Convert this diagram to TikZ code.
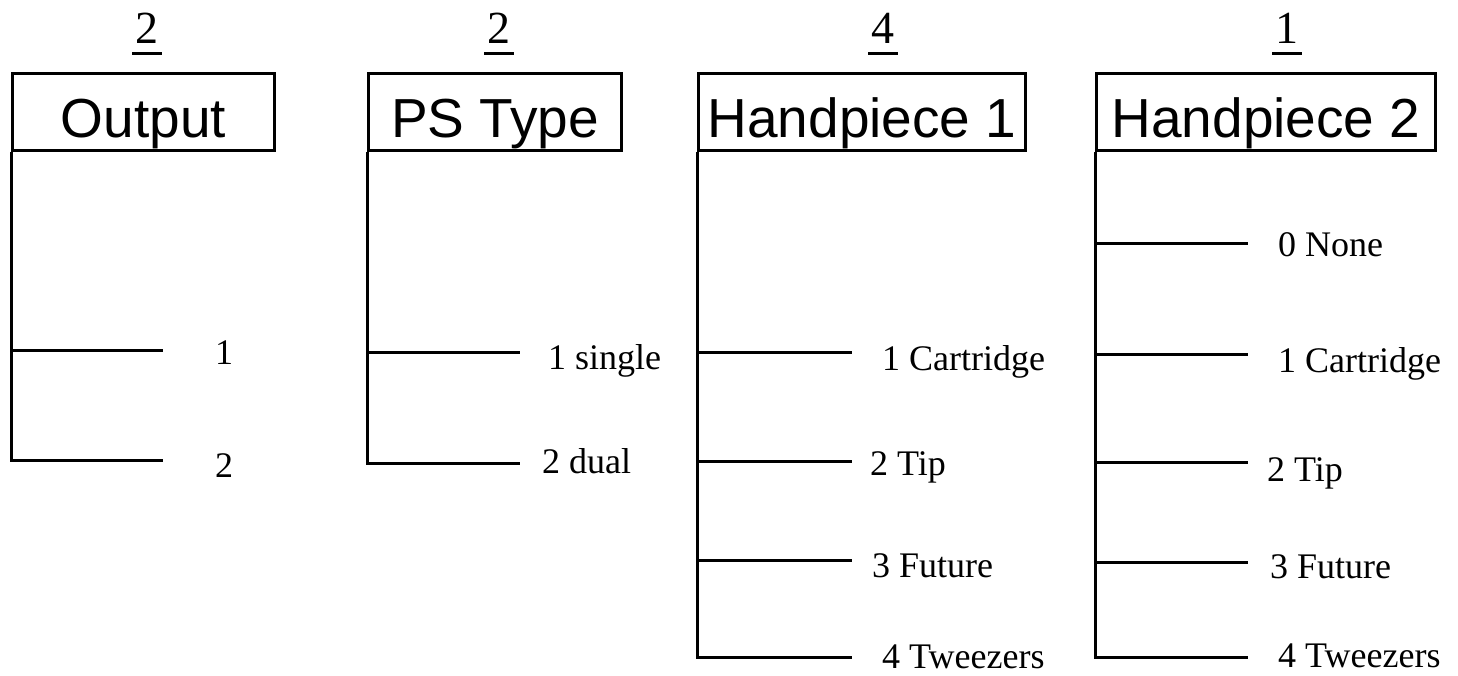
\documentclass[tikz,border=0pt]{standalone}
\usepackage{fontspec}
\setmainfont{Liberation Serif}
\newfontfamily\hdfont{Liberation Sans}
\begin{document}
\begin{tikzpicture}[x=1pt,y=-1pt,
  hdbox/.style={draw,line width=3pt,inner sep=0pt,minimum height=77pt,text height=50pt,text depth=0pt,font=\hdfont\fontsize{55}{60}\selectfont},
  num/.style={inner sep=0pt,anchor=base,font=\fontsize{46}{50}\selectfont},
  lab/.style={inner sep=0pt,anchor=base west,font=\fontsize{36}{40}\selectfont},
  ln/.style={line width=3pt,line join=miter},
  uline/.style={line width=3pt}
]
\useasboundingbox[fill=white] (0,0) rectangle (1458,675);

% ---------- headers ----------
\node[hdbox,minimum width=262pt] (o)  at (143.5,112) {Output};
\node[hdbox,minimum width=253pt] (ps) at (495,112) {PS Type};
\node[hdbox,minimum width=327pt] (h1) at (862,112) {Handpiece 1};
\node[hdbox,minimum width=339pt] (h2) at (1266,112) {Handpiece 2};

\node[num] (no)  at (147,43) {2};
\node[num] (nps) at (499,43) {2};
\node[num] (nh1) at (883,43) {4};
\node[num] (nh2) at (1287,43) {1};
\foreach \n in {no,nps,nh1,nh2}{
  \draw[uline] ([shift={(-15,10.5)}]\n.base) -- ([shift={(15,10.5)}]\n.base);
}

% ---------- Output ----------
\coordinate (o-t1) at (o.south west |- 0,350);
\coordinate (o-e1) at (163,350);
\coordinate (o-e2) at (163,460);
\draw[ln] (o.south west) |- (o-e2);
\draw[ln] (o-t1) -- (o-e1);
\node[lab] (o-l1) at (215,364) {1};
\node[lab] (o-l2) at (215,477) {2};

% ---------- PS Type ----------
\coordinate (ps-t1) at (ps.south west |- 0,352);
\coordinate (ps-e1) at (520,352);
\coordinate (ps-e2) at (520,463);
\draw[ln] (ps.south west) |- (ps-e2);
\draw[ln] (ps-t1) -- (ps-e1);
\node[lab] (ps-l1) at (548,369) {1 single};
\node[lab] (ps-l2) at (542,473) {2 dual};

% ---------- Handpiece 1 ----------
\coordinate (h1-t1) at (h1.south west |- 0,352);
\coordinate (h1-t2) at (h1.south west |- 0,461);
\coordinate (h1-t3) at (h1.south west |- 0,560);
\coordinate (h1-e1) at (852,352);
\coordinate (h1-e2) at (852,461);
\coordinate (h1-e3) at (852,560);
\coordinate (h1-e4) at (852,657);
\draw[ln] (h1.south west) |- (h1-e4);
\draw[ln] (h1-t1) -- (h1-e1);
\draw[ln] (h1-t2) -- (h1-e2);
\draw[ln] (h1-t3) -- (h1-e3);
\node[lab] (h1-l1) at (882,370) {1 Cartridge};
\node[lab] (h1-l2) at (870,475) {2 Tip};
\node[lab] (h1-l3) at (872,577) {3 Future};
\node[lab] (h1-l4) at (882,668) {4 Tweezers};

% ---------- Handpiece 2 ----------
\coordinate (h2-t0) at (h2.south west |- 0,243);
\coordinate (h2-t1) at (h2.south west |- 0,354);
\coordinate (h2-t2) at (h2.south west |- 0,462);
\coordinate (h2-t3) at (h2.south west |- 0,562);
\coordinate (h2-e0) at (1248,243);
\coordinate (h2-e1) at (1248,354);
\coordinate (h2-e2) at (1248,462);
\coordinate (h2-e3) at (1248,562);
\coordinate (h2-e4) at (1248,657);
\draw[ln] (h2.south west) |- (h2-e4);
\draw[ln] (h2-t0) -- (h2-e0);
\draw[ln] (h2-t1) -- (h2-e1);
\draw[ln] (h2-t2) -- (h2-e2);
\draw[ln] (h2-t3) -- (h2-e3);
\node[lab] (h2-l0) at (1278,256) {0 None};
\node[lab] (h2-l1) at (1278,372) {1 Cartridge};
\node[lab] (h2-l2) at (1267,481) {2 Tip};
\node[lab] (h2-l3) at (1270,578) {3 Future};
\node[lab] (h2-l4) at (1278,667) {4 Tweezers};
\end{tikzpicture}
\end{document}
